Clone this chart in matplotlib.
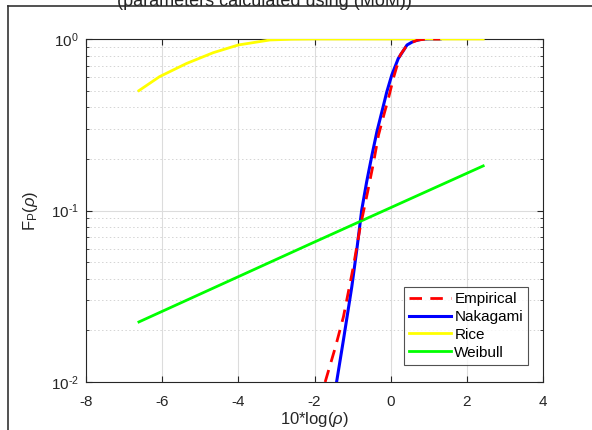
import matplotlib
matplotlib.use("Agg")
import matplotlib.pyplot as plt
from matplotlib.lines import Line2D
from matplotlib.ticker import LogLocator, NullFormatter, FixedLocator, FuncFormatter
import math

plt.rcParams['font.family'] = ['Liberation Sans', 'DejaVu Sans']
plt.rcParams['mathtext.fontset'] = 'custom'
plt.rcParams['mathtext.rm'] = 'Liberation Sans'
plt.rcParams['mathtext.it'] = 'Liberation Sans:italic'

# ---- data ----
emp_x = [-1.72, -1.45, -1.24, -0.98, -0.80, -0.60, -0.45, -0.32, -0.18, -0.06, 0.08, 0.25, 0.40, 0.51, 0.70, 0.90, 1.10, 1.30]
emp_y = [0.010, 0.016, 0.024, 0.047, 0.080, 0.130, 0.190, 0.275, 0.360, 0.450, 0.600, 0.806, 0.900, 0.944, 0.985, 0.997, 1.000, 1.000]

nak_x = [-1.55, -1.42, -1.24, -1.02, -0.89, -0.76, -0.63, -0.49, -0.36, -0.23, -0.10, 0.03, 0.20, 0.43, 0.60, 0.78, 1.00, 1.30]
nak_y = [0.0075, 0.010, 0.0176, 0.036, 0.0589, 0.1007, 0.147, 0.211, 0.289, 0.377, 0.493, 0.617, 0.770, 0.923, 0.970, 0.993, 1.000, 1.000]

rice_x = [-6.61, -6.07, -5.36, -4.66, -4.00, -3.17, -2.60, -2.04, -1.00, 0.00, 1.00, 2.43]
rice_y = [0.500, 0.603, 0.720, 0.832, 0.923, 0.987, 0.997, 1.000, 1.000, 1.000, 1.000, 1.000]

weib_x = [-6.61, -2.10, 2.43]
weib_y = [0.0224, 0.0640, 0.182]

xticks = [-8, -6, -4, -2, 0, 2, 4]
series_labels = ['Empirical', 'Nakagami', 'Rice', 'Weibull']

# ---- figure ----
W, H = 592, 430
fig = plt.figure(figsize=(W / 100, H / 100), dpi=100)
ax = fig.add_axes([86 / W, 1 - 382 / H, (543 - 86) / W, (382 - 39) / H])

dark = '#262626'
ax.semilogy(emp_x, emp_y, color='#ff0000', lw=2, ls=(0, (4.5, 3)), label=series_labels[0], zorder=4)
ax.semilogy(nak_x, nak_y, color='#0000ff', lw=2.2, label=series_labels[1], zorder=3)
ax.semilogy(rice_x, rice_y, color='#ffff00', lw=2, label=series_labels[2], zorder=3)
ax.semilogy(weib_x, weib_y, color='#00ff00', lw=2, label=series_labels[3], zorder=3)

ax.set_xlim(-8, 4)
ax.set_ylim(1e-2, 1)
ax.xaxis.set_major_locator(FixedLocator(xticks))
ax.set_xticklabels([str(t) for t in xticks])
ax.yaxis.set_major_locator(LogLocator(base=10, numticks=10))
ax.yaxis.set_major_formatter(FuncFormatter(
    lambda v, p: r'10$^{\mathregular{%s}}$' % str(int(round(math.log10(v)))).replace('-', '\u2010')))
ax.yaxis.set_minor_locator(LogLocator(base=10, subs=range(2, 10), numticks=20))
ax.yaxis.set_minor_formatter(NullFormatter())

ax.grid(True, which='major', color='#dcdcdc', lw=0.8, ls='-')
ax.grid(True, which='minor', axis='y', color='#d4d4d4', lw=0.7, ls=(0, (1.5, 2.5)))
ax.set_axisbelow(True)

ax.tick_params(which='both', direction='in', top=True, right=True, colors=dark,
               labelsize=11, length=4)
ax.tick_params(axis='x', pad=9)
ax.tick_params(axis='y', pad=5)
ax.tick_params(which='minor', length=2)
for s in ax.spines.values():
    s.set_color(dark)
    s.set_linewidth(0.8)

ax.set_xlabel(r'10*log($\rho$)', fontsize=12, color=dark, labelpad=1)
ax.set_ylabel(r'F$_\mathregular{P}$($\rho$)', fontsize=12, color=dark, labelpad=8)

leg = ax.legend(loc='lower right', bbox_to_anchor=(0.968, 0.05), fontsize=11,
                frameon=True, fancybox=False, handlelength=2.7, handletextpad=0.25,
                borderpad=0.35, labelspacing=0.25, borderaxespad=0)
leg.get_frame().set_edgecolor(dark)
leg.get_frame().set_linewidth(0.8)
for t in leg.get_texts():
    t.set_color('#000000')

# figure frame and cut-off title (as in the reference)
fig.add_artist(Line2D([7.5 / W, 7.5 / W], [0, 1 - 6 / H], transform=fig.transFigure, color='#333333', lw=1.2))
fig.add_artist(Line2D([7.5 / W, 1], [1 - 6 / H, 1 - 6 / H], transform=fig.transFigure, color='#333333', lw=1.2))
fig.text(264 / W, 1 - 2 / H, '(parameters calculated using (MoM))', ha='center', va='center',
         fontsize=13, color=dark)

fig.savefig('out.png', dpi=100)
